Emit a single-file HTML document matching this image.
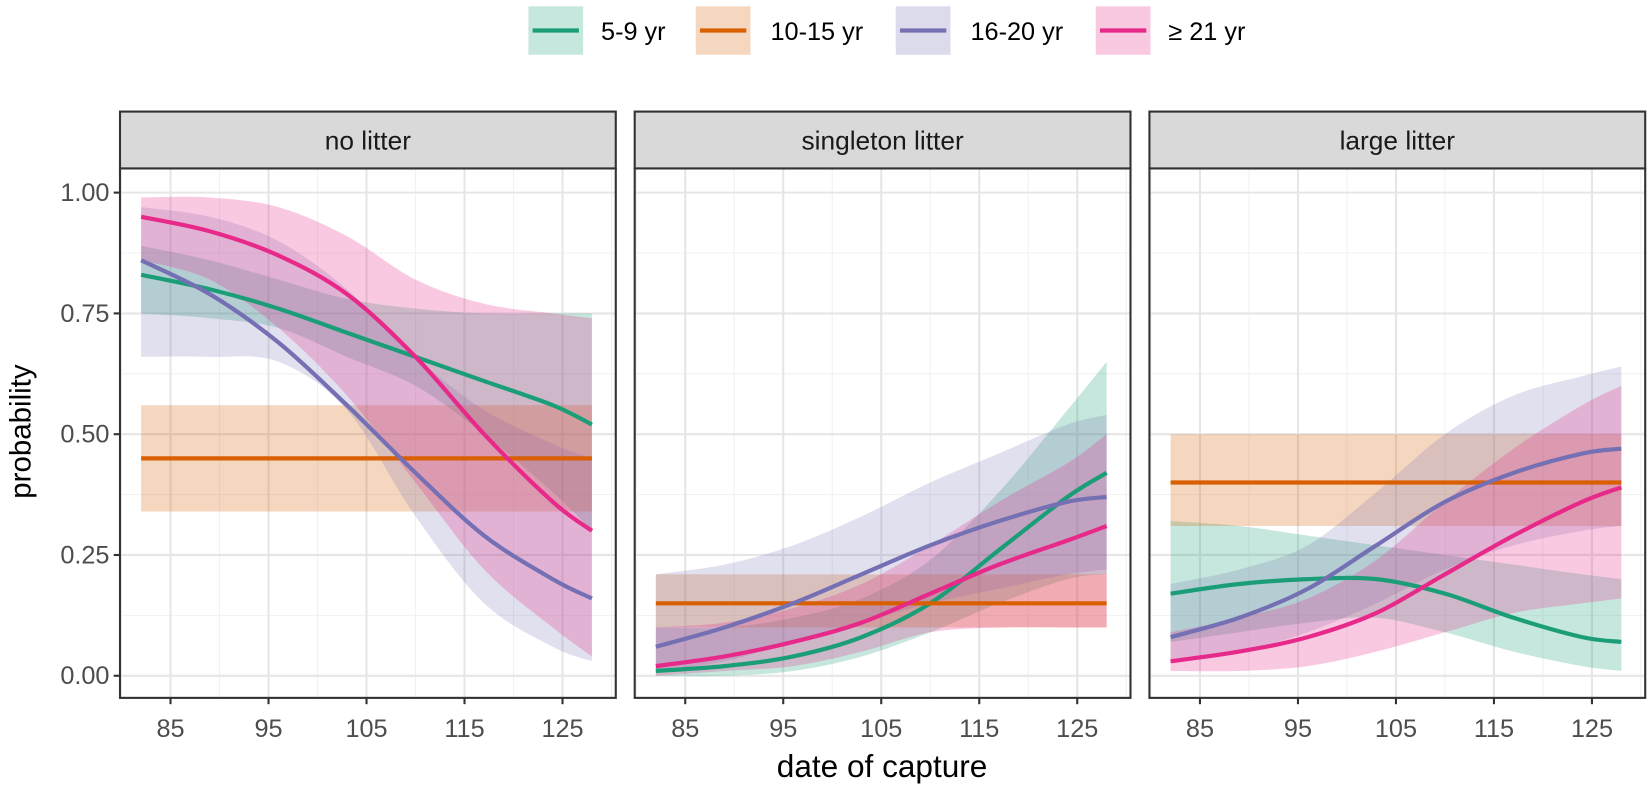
<!DOCTYPE html>
<html><head><meta charset="utf-8"><style>
body{margin:0;background:#fff;}
svg{display:block;font-family:"Liberation Sans",Arial,sans-serif;}
</style></head><body>
<svg id="chart" width="1650" height="789"><g id="root" transform="scale(1.0526)"></g></svg>
<script>
const xs = [82, 89, 96, 103, 110, 117, 124, 128];
const seriesNames = ["5-9 yr", "10-15 yr", "16-20 yr", "≥ 21 yr"];
const panelNames = ["no litter", "singleton litter", "large litter"];
const xTicks = [85, 95, 105, 115, 125];
const yTicks = [0, 0.25, 0.5, 0.75, 1];
const yTickLabels = ["0.00", "0.25", "0.50", "0.75", "1.00"];
// panel 1: no litter
const p1Green = [0.83,0.80,0.76,0.71,0.66,0.61,0.56,0.52];
const p1GreenLo = [0.75,0.74,0.72,0.66,0.60,0.50,0.38,0.30];
const p1GreenHi = [0.89,0.86,0.82,0.78,0.76,0.75,0.75,0.75];
const p1Orange = 0.45, p1OrangeLo = 0.34, p1OrangeHi = 0.56;
const p1Purple = [0.86,0.79,0.69,0.56,0.42,0.29,0.20,0.16];
const p1PurpleLo = [0.66,0.66,0.65,0.55,0.33,0.15,0.06,0.03];
const p1PurpleHi = [0.97,0.95,0.90,0.80,0.66,0.55,0.48,0.45];
const p1Pink = [0.95,0.92,0.87,0.79,0.66,0.50,0.36,0.30];
const p1PinkLo = [0.86,0.82,0.72,0.58,0.40,0.22,0.10,0.04];
const p1PinkHi = [0.99,0.99,0.97,0.91,0.82,0.77,0.75,0.74];
// panel 2: singleton
const p2Green = [0.01,0.02,0.04,0.08,0.15,0.26,0.37,0.42];
const p2GreenLo = [0.00,0.00,0.01,0.04,0.09,0.15,0.20,0.21];
const p2GreenHi = [0.10,0.10,0.12,0.16,0.24,0.38,0.55,0.65];
const p2Orange = 0.15, p2OrangeLo = 0.10, p2OrangeHi = 0.21;
const p2Purple = [0.06,0.10,0.15,0.21,0.27,0.32,0.36,0.37];
const p2PurpleLo = [0.01,0.03,0.07,0.11,0.15,0.18,0.21,0.22];
const p2PurpleHi = [0.21,0.23,0.27,0.33,0.40,0.46,0.52,0.54];
const p2Pink = [0.02,0.04,0.07,0.11,0.17,0.23,0.28,0.31];
const p2PinkLo = [0.00,0.01,0.02,0.05,0.09,0.10,0.10,0.10];
const p2PinkHi = [0.10,0.11,0.14,0.19,0.27,0.36,0.44,0.50];
// panel 3: large
const p3Green = [0.17,0.19,0.20,0.20,0.17,0.12,0.08,0.07];
const p3GreenLo = [0.07,0.09,0.11,0.12,0.09,0.05,0.02,0.01];
const p3GreenHi = [0.32,0.31,0.29,0.27,0.25,0.23,0.21,0.20];
const p3Orange = 0.40, p3OrangeLo = 0.31, p3OrangeHi = 0.50;
const p3Purple = [0.08,0.12,0.18,0.27,0.36,0.42,0.46,0.47];
const p3PurpleLo = [0.03,0.05,0.09,0.15,0.22,0.27,0.30,0.31];
const p3PurpleHi = [0.19,0.22,0.27,0.38,0.50,0.58,0.62,0.64];
const p3Pink = [0.03,0.05,0.08,0.13,0.21,0.29,0.36,0.39];
const p3PinkLo = [0.01,0.01,0.02,0.05,0.09,0.13,0.15,0.16];
const p3PinkHi = [0.09,0.12,0.16,0.24,0.36,0.47,0.56,0.60];

const colors = ["#1b9e77","#d95f02","#7570b3","#e7298a"];
const panels = [
 {l:114, g:[p1Green,p1GreenLo,p1GreenHi], o:[p1Orange,p1OrangeLo,p1OrangeHi], p:[p1Purple,p1PurpleLo,p1PurpleHi], k:[p1Pink,p1PinkLo,p1PinkHi]},
 {l:603, g:[p2Green,p2GreenLo,p2GreenHi], o:[p2Orange,p2OrangeLo,p2OrangeHi], p:[p2Purple,p2PurpleLo,p2PurpleHi], k:[p2Pink,p2PinkLo,p2PinkHi]},
 {l:1092,g:[p3Green,p3GreenLo,p3GreenHi], o:[p3Orange,p3OrangeLo,p3OrangeHi], p:[p3Purple,p3PurpleLo,p3PurpleHi], k:[p3Pink,p3PinkLo,p3PinkHi]}
];
const NS="http://www.w3.org/2000/svg";
const svg=document.getElementById('root');
function mk(tag,attrs,parent){const e=document.createElementNS(NS,tag);for(const k in attrs)e.setAttribute(k,attrs[k]);(parent||svg).appendChild(e);return e;}
const W=471, pTop=160, pBot=663;
function yS(v){return 642-v*459;}
function xS(off,v){return off+48+(v-85)*9.31;}
function spline(pts){
 let d="M"+pts[0][0]+","+pts[0][1];
 for(let i=0;i<pts.length-1;i++){
  const p0=pts[Math.max(i-1,0)],p1=pts[i],p2=pts[i+1],p3=pts[Math.min(i+2,pts.length-1)];
  const c1=[p1[0]+(p2[0]-p0[0])/6,p1[1]+(p2[1]-p0[1])/6];
  const c2=[p2[0]-(p3[0]-p1[0])/6,p2[1]-(p3[1]-p1[1])/6];
  d+=" C"+c1[0]+","+c1[1]+" "+c2[0]+","+c2[1]+" "+p2[0]+","+p2[1];
 }
 return d;
}
function bandPath(off,lo,hi){
 const up=xs.map((x,i)=>[xS(off,x),yS(hi[i])]);
 const dn=xs.map((x,i)=>[xS(off,x),yS(lo[i])]).reverse();
 let d=spline(up);
 d+=" L"+dn[0][0]+","+dn[0][1]+spline(dn).replace(/^M[^ C]+/,"");
 return d+" Z";
}
panels.forEach((P,pi)=>{
 const g=mk('g',{});
 
 
 mk('rect',{x:P.l,y:pTop,width:W,height:pBot-pTop,fill:'#fff'},g);
 for(let v=0.125;v<1.06;v+=0.25){mk('line',{x1:P.l,x2:P.l+W,y1:yS(v),y2:yS(v),stroke:'#f1f1f1','stroke-width':1},g);}
 for(let v=80;v<=130;v+=10){mk('line',{y1:pTop,y2:pBot,x1:xS(P.l,v),x2:xS(P.l,v),stroke:'#f1f1f1','stroke-width':1},g);}
 yTicks.forEach(v=>mk('line',{x1:P.l,x2:P.l+W,y1:yS(v),y2:yS(v),stroke:'#e6e6e6','stroke-width':2},g));
 xTicks.forEach(v=>mk('line',{y1:pTop,y2:pBot,x1:xS(P.l,v),x2:xS(P.l,v),stroke:'#e6e6e6','stroke-width':2},g));
 const x0=xS(P.l,xs[0]),x1=xS(P.l,xs[xs.length-1]);
 const gb=mk('path',{d:bandPath(P.l,P.g[1],P.g[2]),fill:colors[0],'fill-opacity':0.25},g);
 
 const ob=mk('rect',{x:x0,width:x1-x0,y:yS(P.o[2]),height:yS(P.o[1])-yS(P.o[2]),fill:colors[1],'fill-opacity':0.25},g);
 
 const pb=mk('path',{d:bandPath(P.l,P.p[1],P.p[2]),fill:colors[2],'fill-opacity':0.22},g);
 
 const kb=mk('path',{d:bandPath(P.l,P.k[1],P.k[2]),fill:colors[3],'fill-opacity':0.25},g);
 
 const gl=mk('path',{d:spline(xs.map((x,i)=>[xS(P.l,x),yS(P.g[0][i])])),fill:'none',stroke:colors[0],'stroke-width':4},g);
 
 const ol=mk('line',{x1:x0,x2:x1,y1:yS(P.o[0]),y2:yS(P.o[0]),stroke:colors[1],'stroke-width':4},g);
 
 const pl=mk('path',{d:spline(xs.map((x,i)=>[xS(P.l,x),yS(P.p[0][i])])),fill:'none',stroke:colors[2],'stroke-width':4},g);
 
 const kl=mk('path',{d:spline(xs.map((x,i)=>[xS(P.l,x),yS(P.k[0][i])])),fill:'none',stroke:colors[3],'stroke-width':4},g);
 
 mk('rect',{x:P.l,y:pTop,width:W,height:pBot-pTop,fill:'none',stroke:'#333','stroke-width':2},g);
 const st=mk('rect',{x:P.l,y:106,width:W,height:54,fill:'#d9d9d9',stroke:'#333','stroke-width':2},g);
 
 const t=mk('text',{x:P.l+W/2,y:142,'text-anchor':'middle','font-size':25,fill:'#1a1a1a'},g);
 t.textContent=panelNames[pi];
 
 xTicks.forEach(v=>{
  mk('line',{x1:xS(P.l,v),x2:xS(P.l,v),y1:pBot,y2:pBot+6,stroke:'#333','stroke-width':2},g);
  const tx=mk('text',{x:xS(P.l,v),y:700,'text-anchor':'middle','font-size':24,fill:'#4d4d4d'},g);
  tx.textContent=v;
  
 });
});
yTicks.forEach((v,i)=>{
 mk('line',{x1:108,x2:114,y1:yS(v),y2:yS(v),stroke:'#333','stroke-width':2});
 const t=mk('text',{x:104,y:yS(v)+8,'text-anchor':'end','font-size':24,fill:'#4d4d4d'});
 t.textContent=yTickLabels[i];
 
});
const yt=mk('text',{x:0,y:0,transform:'translate(29,410) rotate(-90)','text-anchor':'middle','font-size':28,fill:'#000'});
yt.textContent='probability';

const xt=mk('text',{x:838,y:738,'text-anchor':'middle','font-size':30,fill:'#000'});
xt.textContent='date of capture';

const legX=[502,661,851,1041], legTX=[571,732,922,1110];
seriesNames.forEach((n,i)=>{
 const lg=mk('g',{});
 
 mk('rect',{x:legX[i],y:6,width:52,height:46,fill:colors[i],'fill-opacity':0.25},lg);
 mk('line',{x1:legX[i]+4,x2:legX[i]+48,y1:29,y2:29,stroke:colors[i],'stroke-width':4},lg);
 const t=mk('text',{x:legTX[i],y:38,'font-size':24,fill:'#000'},lg);
 t.textContent=n;
});
</script>
</body></html>
